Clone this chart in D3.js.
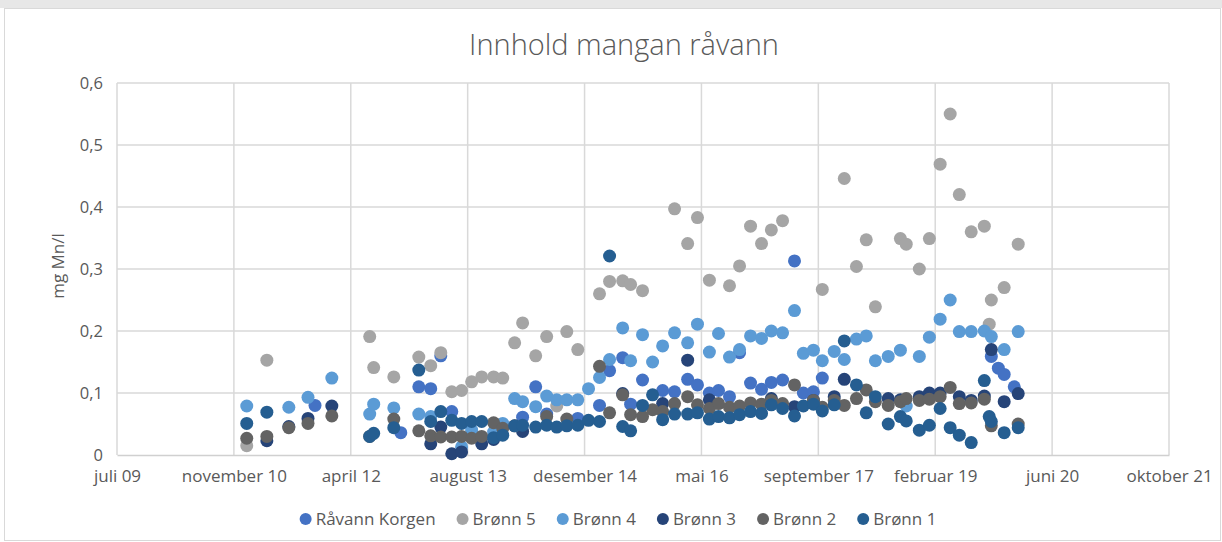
<!DOCTYPE html>
<html><head><meta charset="utf-8">
<script src="https://cdn.jsdelivr.net/npm/d3@7"></script>
<style>
html,body{margin:0;padding:0;background:#fff;}
svg text{font-family:"Open Sans","Noto Sans",sans-serif;fill:#595959;}
</style></head>
<body><svg id="chart" width="1222" height="542"></svg>
<script>
// ---- data ----
const title = "Innhold mangan råvann";
const yTitle = "mg Mn/l";
const seriesNames = ["Råvann Korgen","Brønn 5","Brønn 4","Brønn 3","Brønn 2","Brønn 1"];
const seriesColors = ["#4472C4","#A5A5A5","#5B9BD5","#264478","#636363","#255E91"];
const xTickDates = ["2009-07-06","2010-11-18","2012-04-01","2013-08-14","2014-12-27","2016-05-10","2017-09-22","2019-02-04","2020-06-18","2021-10-31"];
const xTickLabels = ["juli 09","november 10","april 12","august 13","desember 14","mai 16","september 17","februar 19","juni 20","oktober 21"];
const yTicks = [0,0.1,0.2,0.3,0.4,0.5,0.6];
const yTickLabels = ["0","0,1","0,2","0,3","0,4","0,5","0,6"];

const raavannKorgen = [
["2011-10-31",0.080],["2012-11-01",0.036],["2013-01-17",0.110],["2013-03-09",0.107],["2013-04-21",0.160],
["2013-06-07",0.070],["2014-04-06",0.061],["2014-06-01",0.110],["2014-07-18",0.066],["2014-11-28",0.059],
["2015-03-01",0.080],["2015-04-13",0.136],["2015-06-08",0.157],["2015-07-12",0.082],["2015-09-01",0.121],
["2015-11-26",0.104],["2016-01-16",0.102],["2016-03-12",0.122],["2016-04-23",0.113],["2016-06-13",0.100],
["2016-07-22",0.104],["2016-09-07",0.094],["2016-10-20",0.165],["2016-12-06",0.116],["2017-01-22",0.106],
["2017-03-05",0.117],["2017-04-22",0.121],["2017-06-12",0.313],["2017-07-20",0.100],["2017-09-01",0.102],
["2017-10-09",0.124],["2019-10-02",0.159],["2019-11-01",0.140],["2019-11-26",0.130],["2020-01-08",0.110]
];
const bronn5 = [
["2011-01-12",0.015],["2011-04-08",0.153],["2012-06-21",0.191],["2012-07-08",0.141],["2012-10-02",0.126],
["2013-01-17",0.158],["2013-03-09",0.144],["2013-04-21",0.165],["2013-06-07",0.102],["2013-07-19",0.104],
["2013-08-31",0.118],["2013-10-13",0.126],["2013-12-03",0.126],["2014-01-11",0.124],["2014-03-03",0.181],
["2014-04-06",0.213],["2014-06-01",0.160],["2014-07-18",0.191],["2014-08-30",0.079],["2014-10-12",0.199],
["2014-11-28",0.170],["2015-03-01",0.260],["2015-04-13",0.280],["2015-06-08",0.281],["2015-07-12",0.275],
["2015-09-01",0.265],["2016-01-16",0.397],["2016-03-12",0.341],["2016-04-23",0.383],["2016-06-13",0.282],
["2016-09-07",0.273],["2016-10-20",0.305],["2016-12-06",0.369],["2017-01-22",0.341],["2017-03-05",0.363],
["2017-04-22",0.378],["2017-10-09",0.267],["2018-01-11",0.446],["2018-03-04",0.304],["2018-04-15",0.347],
["2018-05-24",0.239],["2018-09-08",0.349],["2018-10-03",0.340],["2018-11-28",0.300],["2019-01-10",0.349],
["2019-02-25",0.469],["2019-04-09",0.550],["2019-05-18",0.420],["2019-07-08",0.360],["2019-09-02",0.369],
["2019-09-23",0.211],["2019-10-02",0.250],["2019-11-26",0.270],["2020-01-25",0.340]
];
const bronn4 = [
["2011-01-12",0.079],["2011-07-11",0.077],["2011-10-01",0.093],["2012-01-11",0.124],["2012-06-21",0.066],
["2012-07-08",0.082],["2012-10-02",0.076],["2013-01-17",0.066],["2013-03-09",0.062],["2013-07-19",0.013],
["2013-08-31",0.040],["2013-12-03",0.037],["2014-01-11",0.051],["2014-03-03",0.091],["2014-04-06",0.086],
["2014-06-01",0.078],["2014-07-18",0.095],["2014-08-30",0.089],["2014-10-12",0.089],["2014-11-28",0.089],
["2015-01-13",0.107],["2015-03-01",0.125],["2015-04-13",0.154],["2015-06-08",0.205],["2015-07-12",0.152],
["2015-09-01",0.194],["2015-10-14",0.150],["2015-11-26",0.176],["2016-01-16",0.197],["2016-03-12",0.181],
["2016-04-23",0.211],["2016-06-13",0.166],["2016-07-22",0.196],["2016-09-07",0.158],["2016-10-20",0.170],
["2016-12-06",0.192],["2017-01-22",0.188],["2017-03-05",0.200],["2017-04-22",0.197],["2017-06-12",0.233],
["2017-07-20",0.164],["2017-09-01",0.169],["2017-10-09",0.152],["2017-11-29",0.167],["2018-01-11",0.154],
["2018-03-04",0.187],["2018-04-15",0.192],["2018-05-24",0.152],["2018-07-18",0.159],["2018-09-08",0.169],
["2018-10-03",0.079],["2018-11-28",0.159],["2019-01-10",0.190],["2019-02-25",0.219],["2019-04-09",0.250],
["2019-05-18",0.199],["2019-07-08",0.199],["2019-09-02",0.200],["2019-10-02",0.191],["2019-11-26",0.170],
["2020-01-25",0.199]
];
const bronn3 = [
["2011-04-08",0.023],["2011-07-11",0.046],["2011-10-01",0.059],["2012-01-11",0.079],["2013-03-09",0.018],
["2013-04-21",0.045],["2013-06-07",0.002],["2013-07-19",0.005],["2013-10-13",0.018],["2013-12-03",0.025],
["2014-04-06",0.038],["2015-06-08",0.099],["2015-11-26",0.083],["2016-03-12",0.153],["2016-06-13",0.089],
["2017-03-05",0.091],["2017-06-12",0.078],["2017-09-01",0.088],["2017-11-29",0.094],["2018-01-11",0.122],
["2018-07-18",0.091],["2018-09-08",0.089],["2018-11-28",0.094],["2019-01-10",0.100],["2019-02-25",0.100],
["2019-05-18",0.094],["2019-07-08",0.088],["2019-09-02",0.095],["2019-10-02",0.170],["2019-11-26",0.086],
["2020-01-25",0.099]
];
const bronn2 = [
["2011-01-12",0.027],["2011-04-08",0.030],["2011-07-11",0.044],["2011-10-01",0.051],["2012-01-11",0.063],
["2012-06-21",0.030],["2012-10-02",0.058],["2013-01-17",0.039],["2013-03-09",0.031],["2013-04-21",0.029],
["2013-06-07",0.029],["2013-07-19",0.030],["2013-08-31",0.027],["2013-10-13",0.030],["2013-12-03",0.052],
["2014-01-11",0.043],["2014-03-03",0.047],["2014-07-18",0.062],["2014-10-12",0.058],["2015-03-01",0.143],
["2015-04-13",0.068],["2015-06-08",0.097],["2015-07-12",0.065],["2015-09-01",0.062],["2015-10-14",0.073],
["2015-11-26",0.070],["2016-01-16",0.083],["2016-03-12",0.094],["2016-04-23",0.081],["2016-06-13",0.075],
["2016-07-22",0.083],["2016-09-07",0.077],["2016-10-20",0.079],["2016-12-06",0.084],["2017-01-22",0.082],
["2017-03-05",0.088],["2017-04-22",0.083],["2017-06-12",0.113],["2017-09-01",0.088],["2017-10-09",0.077],
["2017-11-29",0.088],["2018-01-11",0.080],["2018-03-04",0.091],["2018-04-15",0.105],["2018-05-24",0.086],
["2018-07-18",0.080],["2018-09-08",0.086],["2018-10-03",0.091],["2018-11-28",0.088],["2019-01-10",0.090],
["2019-02-25",0.094],["2019-04-09",0.109],["2019-05-18",0.083],["2019-07-08",0.084],["2019-09-02",0.090],
["2019-10-02",0.047],["2020-01-25",0.050]
];
const bronn1 = [
["2011-01-12",0.051],["2011-04-08",0.069],["2012-06-21",0.030],["2012-07-08",0.035],["2012-10-02",0.044],
["2013-01-17",0.137],["2013-03-09",0.054],["2013-04-21",0.070],["2013-06-07",0.056],["2013-07-19",0.051],
["2013-08-31",0.054],["2013-10-13",0.054],["2013-12-03",0.028],["2014-01-11",0.032],["2014-03-03",0.047],
["2014-04-06",0.048],["2014-06-01",0.045],["2014-07-18",0.048],["2014-08-30",0.045],["2014-10-12",0.047],
["2014-11-28",0.048],["2015-01-13",0.056],["2015-03-01",0.054],["2015-04-13",0.321],["2015-06-08",0.046],
["2015-07-12",0.039],["2015-09-01",0.080],["2015-10-14",0.097],["2015-11-26",0.057],["2016-01-16",0.066],
["2016-03-12",0.066],["2016-04-23",0.068],["2016-06-13",0.058],["2016-07-22",0.062],["2016-09-07",0.060],
["2016-10-20",0.065],["2016-12-06",0.070],["2017-01-22",0.067],["2017-03-05",0.081],["2017-04-22",0.075],
["2017-06-12",0.063],["2017-07-20",0.079],["2017-09-01",0.082],["2017-10-09",0.071],["2017-11-29",0.081],
["2018-01-11",0.184],["2018-03-04",0.113],["2018-04-15",0.068],["2018-05-24",0.094],["2018-07-18",0.050],
["2018-09-08",0.062],["2018-10-03",0.055],["2018-11-28",0.040],["2019-01-10",0.048],["2019-02-25",0.075],
["2019-04-09",0.044],["2019-05-18",0.032],["2019-07-08",0.020],["2019-09-02",0.120],["2019-09-23",0.062],
["2019-10-02",0.054],["2019-11-26",0.036],["2020-01-25",0.044]
];
const seriesData = [raavannKorgen,bronn5,bronn4,bronn3,bronn2,bronn1];

// ---- layout ----
const svg = d3.select("#chart");
const W = 1222, H = 542;
const plot = {left:117, right:1169, top:83, bottom:455};
const parse = d3.timeParse("%Y-%m-%d");

svg.append("rect").attr("x",0).attr("y",0).attr("width",W).attr("height",H).attr("fill","#fff");
svg.append("rect").attr("x",0).attr("y",0).attr("width",W).attr("height",8).attr("fill","#e7e7e7");
svg.append("rect").attr("x",4.5).attr("y",8.5).attr("width",W-6).attr("height",H-10)
  .attr("fill","none").attr("stroke","#d9d9d9").attr("stroke-width",1);

const x = d3.scaleTime().domain([parse(xTickDates[0]), parse(xTickDates[xTickDates.length-1])]).range([plot.left, plot.right]);
const y = d3.scaleLinear().domain([0,0.6]).range([plot.bottom, plot.top]);

// gridlines
const grid = svg.append("g");
grid.selectAll("line.h").data(yTicks.slice(1)).join("line")
  .attr("x1",plot.left).attr("x2",plot.right)
  .attr("y1",d=>y(d)).attr("y2",d=>y(d))
  .attr("stroke","#d9d9d9").attr("stroke-width",1.5);
grid.selectAll("line.v").data(xTickDates).join("line")
  .attr("x1",d=>x(parse(d))).attr("x2",d=>x(parse(d)))
  .attr("y1",plot.top).attr("y2",plot.bottom)
  .attr("stroke","#d9d9d9").attr("stroke-width",1.5);

// x axis
const xAxis = d3.axisBottom(x).tickValues(xTickDates.map(parse))
  .tickFormat((d,i)=>xTickLabels[i]).tickSize(0).tickPadding(15);
const gx = svg.append("g").attr("transform",`translate(0,${plot.bottom})`).call(xAxis);
gx.select(".domain").attr("stroke","#d0d0d0").attr("stroke-width",1.5);
gx.selectAll("text").style("font-size","17px").attr("fill","#595959");

// y axis
const yAxis = d3.axisLeft(y).tickValues(yTicks).tickFormat((d,i)=>yTickLabels[i]).tickSize(0).tickPadding(14);
const gy = svg.append("g").attr("transform",`translate(${plot.left},0)`).call(yAxis);
gy.select(".domain").remove();
gy.selectAll("text").style("font-size","16.5px").attr("fill","#595959");

// titles
svg.append("text").attr("x",624).attr("y",55).attr("text-anchor","middle")
  .style("font-size","29px").style("font-weight","300").text(title);
svg.append("text").attr("transform","translate(64,266) rotate(-90)").attr("text-anchor","middle")
  .style("font-size","17px").text(yTitle);

// points
seriesData.forEach((s,i)=>{
  svg.append("g").selectAll("circle").data(s).join("circle")
    .attr("cx",d=>x(parse(d[0]))).attr("cy",d=>y(d[1]))
    .attr("r",6.5).attr("fill",seriesColors[i]);
});

// legend
const leg = svg.append("g");
let lx = 0;
seriesNames.forEach((n,i)=>{
  const g = leg.append("g");
  g.append("circle").attr("cx",0).attr("cy",0).attr("r",6).attr("fill",seriesColors[i]);
  const t = g.append("text").attr("x",10).attr("y",6).style("font-size","17px").text(n);
  const w = 10 + t.node().getComputedTextLength();
  g.attr("transform",`translate(${lx},0)`);
  lx += w + 27;
});
const total = lx - 27;
leg.attr("transform",`translate(${615 - total/2 + 6},519)`);
</script></body></html>
